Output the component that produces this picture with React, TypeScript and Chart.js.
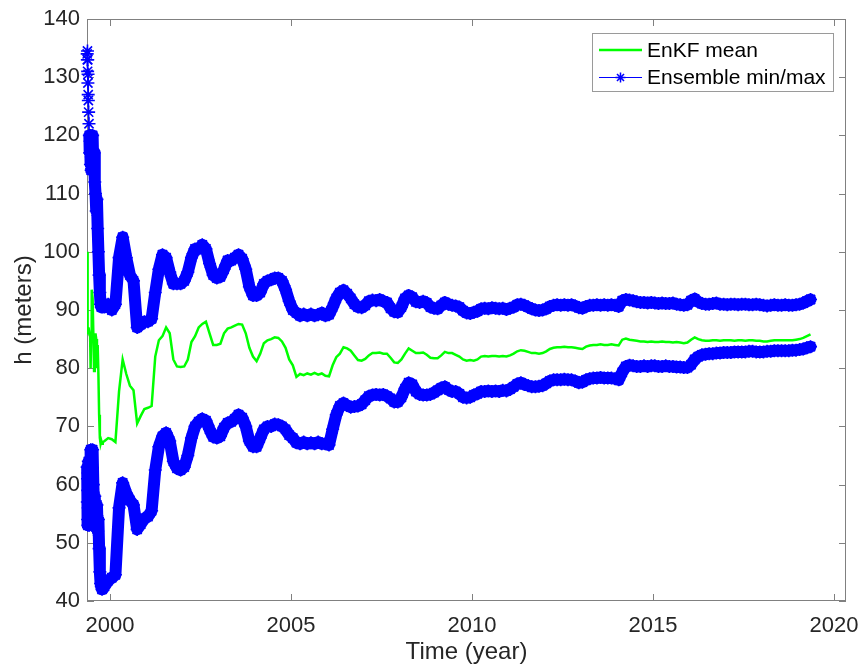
import React, { useEffect, useRef } from "react";
import { Chart, registerables } from "chart.js";

Chart.register(...registerables);

// ---- data ----
// dense sampling during the first months, then every 0.1 year
const earlyYears = [
  1999.370, 1999.374, 1999.378, 1999.382, 1999.386, 1999.390, 1999.394, 1999.398, 1999.402,
  1999.41, 1999.42, 1999.43, 1999.44, 1999.45, 1999.46, 1999.47, 1999.48, 1999.49, 1999.50,
  1999.52, 1999.54, 1999.56, 1999.58, 1999.60, 1999.62, 1999.64, 1999.66, 1999.68, 1999.70,
  1999.72, 1999.74, 1999.76, 1999.78, 1999.80,
];
const regularStart = 1999.85;
const regularStep = 0.1;
const regularCount = 196;
const regularYears = Array.from({ length: regularCount }, (_, i) =>
  Number((regularStart + i * regularStep).toFixed(2))
);
const years = [...earlyYears, ...regularYears];

const ensembleMax = [
  // early
  134, 133, 134.5, 131, 133, 129, 130.5, 127, 126,
  124, 122, 120, 117, 119, 115, 120, 114, 118, 116,
  120, 114, 117, 112, 110, 107, 109, 104, 100, 96, 93, 91, 90.5, 91, 90.5,
  // 1999.85 ..
  90.5, 91,
  90, 91, 99, 102.5, 99, 96, 95, 87, 87.5, 88,
  88, 88.5, 93, 97, 99.5, 99, 96.5, 94.5, 94.5, 94.5,
  95, 96.5, 99, 100.5, 100.5, 101.2, 100.5, 98, 96, 95.5,
  95.7, 97, 98.5, 98.5, 99, 99.5, 98.8, 97, 94, 92.5,
  92.5, 93, 94.5, 95, 95.2, 95.5, 95.5, 95, 93.5, 91.5,
  90, 89.5, 89, 89.3, 89, 89.3, 89, 89.2, 89.5, 89,
  89.2, 90.5, 92, 93, 93.4, 92.8, 92, 91, 90.5, 90.4,
  90.8, 91.5, 91.7, 91.6, 91.8, 91.5, 91.3, 90.3, 89.7, 89.6,
  90.5, 92, 92.5, 92.2, 91.4, 91.3, 91.5, 91.2, 90.5, 90.3,
  90.2, 90.8, 91.3, 91, 90.8, 90.7, 90.5, 89.9, 89.5, 89.4,
  89.6, 89.8, 90.2, 90.3, 90.2, 90.4, 90.3, 90.2, 90.3, 90.1,
  90.3, 90.5, 90.9, 91, 90.8, 90.5, 90.2, 90, 89.9, 90,
  90.2, 90.6, 90.8, 90.9, 90.8, 90.9, 90.8, 90.9, 90.7, 90.4,
  90.3, 90.6, 90.8, 90.8, 90.9, 90.8, 90.9, 90.8, 90.9, 90.8,
  90.6, 91.6, 91.8, 91.7, 91.6, 91.4, 91.3, 91.3, 91.2, 91.3,
  91.2, 91.1, 91.2, 91.1, 91.1, 91.2, 91.0, 90.9, 90.8, 90.9,
  91.6, 91.9, 91.4, 91.1, 91.0, 91.0, 91.1, 91.2, 91.0, 91.0,
  90.9, 91.0, 91.0, 90.9, 91.0, 91.0, 90.9, 90.9, 91.0, 90.9,
  90.8, 90.7, 90.8, 90.9, 90.8, 90.8, 90.9, 90.8, 90.8, 90.9,
  91.0, 91.2, 91.5, 91.8,
];

const enkfMean = [
  // early
  100, 95, 91, 88, 86.5, 87, 86, 87, 86.5,
  86, 87, 86, 85.5, 86, 84, 80, 86, 88, 93.5,
  92, 86, 79.5, 84, 86, 85, 80, 84, 79, 72, 68, 67, 67.5, 67, 67.3,
  // 1999.85 ..
  67.5, 68,
  67.8, 67.3, 76, 81.5, 79, 77, 76.2, 70.5, 71.8, 73,
  73.2, 73.5, 82, 84.8, 85.5, 87, 86, 81.5, 80.3, 80.2,
  80.3, 81.5, 84.5, 85.5, 87, 87.6, 88, 86, 84, 84,
  84.2, 86, 86.8, 87, 87.3, 87.6, 87.5, 86, 83.5, 82,
  81.2, 82.5, 84.3, 84.8, 85, 85.3, 85.2, 84.6, 83.5, 81.5,
  80.5, 78.5, 79, 78.8, 79.1, 78.9, 79.2, 78.9, 79.1, 78.7,
  78.6, 80.5, 81.9, 82.5, 83.6, 83.4, 83, 82.2, 81.4, 81.3,
  81.6, 82.2, 82.6, 82.6, 82.7, 82.5, 82.5, 81.8, 81, 80.9,
  81.5, 82.5, 83.4, 83, 82.6, 82.6, 82.7, 82.3, 81.8, 81.7,
  81.7, 82.2, 82.8, 82.6, 82.6, 82.3, 82, 81.5, 81.3, 81.4,
  81.3, 81.5, 82, 82.1, 82, 82.1, 82.1, 82, 82.1, 82,
  82.2, 82.5, 82.9, 83.1, 83, 82.8, 82.6, 82.6, 82.5, 82.6,
  82.9, 83.3, 83.5, 83.6, 83.6, 83.7, 83.6, 83.6, 83.5, 83.4,
  83.3, 83.7, 83.9, 84, 84, 84.1, 84, 84, 84.1, 84,
  83.9, 84.9, 85.1, 84.9, 84.8, 84.7, 84.6, 84.6, 84.5, 84.6,
  84.5, 84.5, 84.6, 84.5, 84.5, 84.4, 84.5, 84.4, 84.3, 84.4,
  84.9, 85.3, 85.0, 84.8, 84.7, 84.7, 84.8, 84.8, 84.7, 84.8,
  84.8, 84.8, 84.7, 84.8, 84.8, 84.7, 84.8, 84.8, 84.7, 84.7,
  84.6, 84.6, 84.7, 84.8, 84.8, 84.8, 84.8, 84.8, 84.8, 84.9,
  85.0, 85.2, 85.5, 85.8,
];

const ensembleMin = [
  // early
  63, 57, 61, 54, 59, 53, 62, 56, 64,
  55, 60, 53, 58, 63, 56, 66, 60, 64, 57,
  66, 60, 56, 58, 53, 55, 56.5, 52, 54, 49, 45, 43, 42.5, 42, 42.5,
  // 1999.85 ..
  42.5, 43.5,
  44, 44.5, 56, 60.3, 58.5, 57.3, 56.5, 52.3, 53.2, 54.2,
  54.5, 55.5, 62.5, 66.5, 68.3, 68.9, 67.5, 64, 62.8, 62.5,
  63, 65, 68, 70, 70.8, 71.3, 71, 69.5, 68.2, 68,
  68.3, 69.8, 70.6, 70.8, 71.3, 72, 71.5, 70, 67.5, 66.5,
  66.5, 68, 69.5, 70, 70, 70.4, 70.3, 70, 69.5, 68.5,
  68, 67.2, 67, 67.3, 67, 67.2, 67, 67.3, 67, 67,
  66.8, 69.5, 72, 73.5, 74, 73.6, 73.3, 73.4, 73.5, 73.8,
  74.5, 75.2, 75.4, 75.5, 75.4, 75.5, 75.2, 74.8, 74.2, 74.2,
  75, 76.5, 77.5, 77.2, 76, 75.5, 75.4, 75.4, 75.5, 75.8,
  76.2, 76.6, 76.8, 76.3, 76, 76, 75.6, 75, 74.9, 75,
  75.4, 75.6, 76, 76, 76.1, 76, 76.1, 76, 76.2, 76.1,
  76.4, 76.8, 77.3, 77.5, 77.2, 77, 76.8, 76.8, 76.9, 77,
  77.4, 77.8, 78, 78, 78, 78.1, 78, 78, 77.8, 77.5,
  77.6, 78, 78.2, 78.3, 78.3, 78.4, 78.3, 78.3, 78.3, 78.2,
  78, 79.3, 80.3, 80.5, 80.4, 80.3, 80.3, 80.4, 80.3, 80.4,
  80.4, 80.3, 80.3, 80.4, 80.3, 80.3, 80.2, 80.2, 80.1, 80.1,
  80.6, 81.5, 82.0, 82.3, 82.4, 82.5, 82.5, 82.6, 82.6, 82.7,
  82.7, 82.7, 82.8, 82.8, 82.8, 82.8, 82.9, 82.9, 82.8, 82.8,
  82.8, 82.9, 82.9, 83.0, 83.0, 83.0, 83.0, 83.0, 83.1, 83.1,
  83.2, 83.3, 83.5, 83.7,
];

const xTickValues = [2000, 2005, 2010, 2015, 2020];
const yTickValues = [40, 50, 60, 70, 80, 90, 100, 110, 120, 130, 140];
const legendLabels = ["EnKF mean", "Ensemble min/max"];
const xTitle = "Time (year)";
const yTitle = "h (meters)";

// ---- styling ----
const FONT = '"Liberation Sans", Arial, Helvetica, sans-serif';
const GREEN = "#00ff00";
const BLUE = "#0000ff";
const FRAME = "#808080";
const TEXT = "#262626";
const BAND = 12;

function drawAsterisk(ctx: CanvasRenderingContext2D, x: number, y: number, r: number) {
  ctx.beginPath();
  for (let k = 0; k < 4; k++) {
    const a = (k * Math.PI) / 4;
    ctx.moveTo(x - r * Math.cos(a), y - r * Math.sin(a));
    ctx.lineTo(x + r * Math.cos(a), y + r * Math.sin(a));
  }
  ctx.stroke();
}

const framePlugin = {
  id: "matlabFrame",
  beforeDatasetsDraw(chart: any) {
    const { ctx, chartArea: a, scales } = chart;
    ctx.save();
    ctx.strokeStyle = FRAME;
    ctx.lineWidth = 1;
    ctx.strokeRect(a.left + 0.5, a.top + 0.5, a.right - a.left - 1, a.bottom - a.top - 1);
    const tl = 7;
    ctx.beginPath();
    xTickValues.forEach((v) => {
      const px = Math.round(scales.x.getPixelForValue(v)) + 0.5;
      ctx.moveTo(px, a.bottom);
      ctx.lineTo(px, a.bottom - tl);
      ctx.moveTo(px, a.top);
      ctx.lineTo(px, a.top + tl);
    });
    yTickValues.forEach((v) => {
      const py = Math.round(scales.y.getPixelForValue(v)) + 0.5;
      ctx.moveTo(a.left, py);
      ctx.lineTo(a.left + tl, py);
      ctx.moveTo(a.right, py);
      ctx.lineTo(a.right - tl, py);
    });
    ctx.stroke();
    ctx.restore();
  },
  afterDraw(chart: any) {
    const { ctx, chartArea: a } = chart;
    ctx.save();
    // axis titles
    ctx.fillStyle = TEXT;
    ctx.font = `24px ${FONT}`;
    ctx.textAlign = "center";
    ctx.textBaseline = "middle";
    ctx.fillText(xTitle, (a.left + a.right) / 2, 652);
    ctx.save();
    ctx.translate(24, (a.top + a.bottom) / 2);
    ctx.rotate(-Math.PI / 2);
    ctx.fillText(yTitle, 0, 0);
    ctx.restore();

    // legend box
    const bx = 592, by = 33, bw = 241, bh = 58;
    ctx.fillStyle = "#ffffff";
    ctx.fillRect(bx, by, bw, bh);
    ctx.strokeStyle = "#9a9a9a";
    ctx.lineWidth = 1;
    ctx.strokeRect(bx + 0.5, by + 0.5, bw, bh);
    const rows = [50, 77];
    ctx.lineCap = "butt";
    ctx.strokeStyle = GREEN;
    ctx.lineWidth = 2.5;
    ctx.beginPath();
    ctx.moveTo(599, rows[0]);
    ctx.lineTo(642, rows[0]);
    ctx.stroke();
    ctx.strokeStyle = BLUE;
    ctx.lineWidth = 1;
    ctx.beginPath();
    ctx.moveTo(599, rows[1] + 0.5);
    ctx.lineTo(642, rows[1] + 0.5);
    ctx.stroke();
    ctx.lineWidth = 1.5;
    drawAsterisk(ctx, 620.5, rows[1] + 0.5, 5);
    ctx.fillStyle = "#000000";
    ctx.font = `21px ${FONT}`;
    ctx.textAlign = "left";
    ctx.textBaseline = "middle";
    ctx.fillText(legendLabels[0], 647, rows[0] + 1);
    ctx.fillText(legendLabels[1], 647, rows[1] + 1);
    ctx.restore();
  },
};

export default function App() {
  const canvasRef = useRef<HTMLCanvasElement | null>(null);

  useEffect(() => {
    if (!canvasRef.current) return;
    const toPts = (vals: number[]) => years.map((x, i) => ({ x, y: vals[i] }));
    const blueDataset = (label: string, vals: number[], thinUntil: number) => ({
      label,
      data: toPts(vals),
      borderColor: BLUE,
      backgroundColor: BLUE,
      borderWidth: BAND,
      borderJoinStyle: "round" as const,
      borderCapStyle: "round" as const,
      pointStyle: "star" as const,
      pointRadius: 6.5,
      pointBorderWidth: 1.6,
      pointBorderColor: BLUE,
      pointBackgroundColor: BLUE,
      tension: 0,
      clip: false as any,
      segment: {
        borderWidth: (c: any) => (c.p0DataIndex < thinUntil ? 1 : BAND),
      },
    });

    const chart = new Chart(canvasRef.current, {
      type: "line",
      data: {
        datasets: [
          {
            label: legendLabels[0],
            data: toPts(enkfMean),
            borderColor: GREEN,
            backgroundColor: GREEN,
            borderWidth: 2.5,
            pointRadius: 0,
            tension: 0,
            order: 0,
          },
          { ...blueDataset(legendLabels[1], ensembleMax, 11), order: 1 },
          { ...blueDataset(legendLabels[1] + " (min)", ensembleMin, 0), order: 1 },
        ],
      },
      options: {
        responsive: false,
        animation: false,
        devicePixelRatio: 1,
        events: [],
        layout: { padding: { top: 19, right: 16, left: 0, bottom: 0 } },
        plugins: {
          legend: { display: false },
          tooltip: { enabled: false },
        },
        scales: {
          x: {
            type: "linear",
            min: 1999.365,
            max: 2020.33,
            grid: { display: false, drawTicks: false },
            border: { display: false },
            afterBuildTicks: (s: any) => {
              s.ticks = xTickValues.map((v) => ({ value: v }));
            },
            afterFit: (s: any) => {
              s.height = 66;
              s.paddingLeft = 0;
              s.paddingRight = 0;
            },
            ticks: {
              font: { family: FONT, size: 22 },
              color: TEXT,
              padding: 12,
              maxRotation: 0,
              autoSkip: false,
              callback: (v: any) => String(v),
            },
          },
          y: {
            type: "linear",
            min: 40,
            max: 140,
            grid: { display: false, drawTicks: false },
            border: { display: false },
            afterBuildTicks: (s: any) => {
              s.ticks = yTickValues.map((v) => ({ value: v }));
            },
            afterFit: (s: any) => {
              s.width = 87;
              s.paddingTop = 0;
              s.paddingBottom = 0;
            },
            ticks: {
              font: { family: FONT, size: 22 },
              color: TEXT,
              padding: 7,
              autoSkip: false,
              callback: (v: any) => String(v),
            },
          },
        },
      },
      plugins: [framePlugin],
    });
    return () => chart.destroy();
  }, []);

  return (
    <div style={{ position: "fixed", left: 0, top: 0, width: 862, height: 667, background: "#ffffff" }}>
      <canvas ref={canvasRef} width={862} height={667} style={{ display: "block" }} />
    </div>
  );
}
